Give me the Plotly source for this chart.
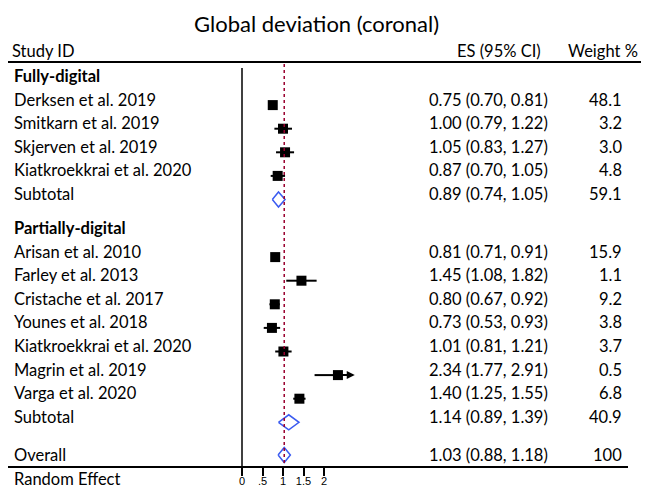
import plotly.graph_objects as go

# ---- data -------------------------------------------------------------
full_ids = ["Derksen et al. 2019", "Smitkarn et al. 2019", "Skjerven et al. 2019",
            "Kiatkroekkrai et al. 2020"]
full_es = [0.75, 1.00, 1.05, 0.87]
full_lo = [0.70, 0.79, 0.83, 0.70]
full_hi = [0.81, 1.22, 1.27, 1.05]
full_wt = ["48.1", "3.2", "3.0", "4.8"]

part_ids = ["Arisan et al. 2010", "Farley et al. 2013", "Cristache et al. 2017",
            "Younes et al. 2018", "Kiatkroekkrai et al. 2020", "Magrin et al. 2019",
            "Varga et al. 2020"]
part_es = [0.81, 1.45, 0.80, 0.73, 1.01, 2.34, 1.40]
part_lo = [0.71, 1.08, 0.67, 0.53, 0.81, 1.77, 1.25]
part_hi = [0.91, 1.82, 0.92, 0.93, 1.21, 2.91, 1.55]
part_wt = ["15.9", "1.1", "9.2", "3.8", "3.7", "0.5", "6.8"]

sub_es = [0.89, 1.14]
sub_lo = [0.74, 0.89]
sub_hi = [1.05, 1.39]
sub_wt = ["59.1", "40.9"]

overall_es, overall_lo, overall_hi, overall_wt = 1.03, 0.88, 1.18, "100"

tick_vals = [0, 0.5, 1, 1.5, 2]
tick_text = ["0", ".5", "1", "1.5", "2"]

# ---- layout constants (pixel geometry) --------------------------------
W, H = 650, 489
AX_Y = 466                 # pixel row of the x axis
PX0, PXU = 242, 41         # pixel of x=0 and pixels per unit
X_LEFT, X_RIGHT = 8, 628   # extent of the axis line
X_CLIP = 2.75              # CIs beyond this get an arrow
PITCH = 23.6
MARK_DY = 5.5
FONT = "Lato"
FS = 16.5
DIAMOND_COLOR = "#3b5bf0"


def fmt(es, lo, hi):
    return f"{es:.2f} ({lo:.2f}, {hi:.2f})"


def px(v):
    return v / W


def py(v):
    # pixel row -> paper fraction of the plot area
    return (AX_Y - v) / AX_Y


rows = []  # (kind, label, es, lo, hi, weight, text_y)
y = 76.0
rows.append(("head", "Fully-digital", None, None, None, None, y))
for i in range(len(full_ids)):
    y += PITCH
    rows.append(("study", full_ids[i], full_es[i], full_lo[i], full_hi[i], full_wt[i], y))
y += PITCH
rows.append(("sub", "Subtotal", sub_es[0], sub_lo[0], sub_hi[0], sub_wt[0], y))
y = 228.0
rows.append(("head", "Partially-digital", None, None, None, None, y))
for i in range(len(part_ids)):
    y += PITCH
    rows.append(("study", part_ids[i], part_es[i], part_lo[i], part_hi[i], part_wt[i], y))
y += PITCH
rows.append(("sub", "Subtotal", sub_es[1], sub_lo[1], sub_hi[1], sub_wt[1], y))
y = 455.0
rows.append(("overall", "Overall", overall_es, overall_lo, overall_hi, overall_wt, y))

fig = go.Figure()
annotations = []
shapes = []

# study squares with CI lines
sq_x, sq_y, ci_x, ci_y = [], [], [], []
for kind, label, es, lo, hi, wt, ty in rows:
    if kind != "study":
        continue
    my = ty + MARK_DY
    sq_x.append(es)
    sq_y.append(my)
    ci_x += [lo, hi if hi <= X_CLIP else es, None]
    ci_y += [my, my, None]
    if hi > X_CLIP:
        annotations.append(dict(x=X_CLIP, y=my, ax=es, ay=my, xref="x", yref="y",
                                axref="x", ayref="y", text="", showarrow=True,
                                arrowhead=2, arrowsize=0.8, arrowwidth=2,
                                arrowcolor="black"))

fig.add_trace(go.Scatter(x=ci_x, y=ci_y, mode="lines",
                         line=dict(color="black", width=2), hoverinfo="skip"))
fig.add_trace(go.Scatter(x=sq_x, y=sq_y, mode="markers",
                         marker=dict(symbol="square", size=10, color="black",
                                     line=dict(width=0)), hoverinfo="skip"))

# pooled diamonds
for kind, label, es, lo, hi, wt, ty in rows:
    if kind not in ("sub", "overall"):
        continue
    my = ty + (MARK_DY if kind == "sub" else 0)
    hh = 7.5
    fig.add_trace(go.Scatter(x=[lo, es, hi, es, lo], y=[my, my - hh, my, my + hh, my],
                             mode="lines", line=dict(color=DIAMOND_COLOR, width=1.5),
                             hoverinfo="skip"))

# text columns
for kind, label, es, lo, hi, wt, ty in rows:
    bold = kind == "head"
    annotations.append(dict(x=px(12), y=py(ty), xref="paper", yref="paper", xanchor="left",
                            yanchor="middle", showarrow=False,
                            text=f"<b>{label}</b>" if bold else label,
                            font=dict(family=FONT, size=FS, color="black")))
    if es is not None:
        annotations.append(dict(x=px(427), y=py(ty), xref="paper", yref="paper",
                                xanchor="left", yanchor="middle", showarrow=False,
                                text=fmt(es, lo, hi),
                                font=dict(family=FONT, size=FS, color="black")))
        annotations.append(dict(x=px(624), y=py(ty), xref="paper", yref="paper",
                                xanchor="right", yanchor="middle", showarrow=False,
                                text=wt, font=dict(family=FONT, size=FS, color="black")))

annotations.append(dict(x=px(12), y=py(479), xref="paper", yref="paper", xanchor="left",
                        yanchor="middle", showarrow=False, text="Random Effect",
                        font=dict(family=FONT, size=FS, color="black")))

# headers and title
annotations += [
    dict(x=px(316), y=py(23), xref="paper", yref="paper", xanchor="center",
         yanchor="middle", showarrow=False, text="Global deviation (coronal)",
         font=dict(family=FONT, size=22, color="black")),
    dict(x=px(10), y=py(51), xref="paper", yref="paper", xanchor="left", yanchor="middle",
         showarrow=False, text="Study ID", font=dict(family=FONT, size=FS, color="black")),
    dict(x=px(455), y=py(51), xref="paper", yref="paper", xanchor="left",
         yanchor="middle", showarrow=False, text="ES (95% CI)",
         font=dict(family=FONT, size=FS, color="black")),
    dict(x=px(640), y=py(51), xref="paper", yref="paper", xanchor="right",
         yanchor="middle", showarrow=False, text="Weight %",
         font=dict(family=FONT, size=FS, color="black")),
]

# header rule, null line and overall effect line
shapes += [
    dict(type="line", xref="paper", yref="y", x0=px(8), x1=px(641), y0=62, y1=62,
         line=dict(color="black", width=2)),
    dict(type="line", xref="x", yref="y", x0=0, x1=0, y0=68, y1=AX_Y,
         line=dict(color="black", width=1.5)),
    dict(type="line", xref="x", yref="y", x0=overall_es, x1=overall_es, y0=64, y1=AX_Y,
         line=dict(color="#99002e", width=1.5, dash="dot")),
]

fig.update_layout(
    width=W, height=H,
    margin=dict(l=0, r=0, t=0, b=H - AX_Y, autoexpand=False),
    paper_bgcolor="white", plot_bgcolor="white",
    showlegend=False,
    annotations=annotations, shapes=shapes,
    xaxis=dict(domain=[X_LEFT / W, X_RIGHT / W],
               range=[(X_LEFT - PX0) / PXU, (X_RIGHT - PX0) / PXU],
               tickmode="array", tickvals=tick_vals, ticktext=tick_text,
               ticks="outside", ticklen=8, tickwidth=1.5, tickcolor="black",
               ticklabelstandoff=-4, automargin=False,
               showline=True, linecolor="black", linewidth=1.5,
               showgrid=False, zeroline=False, fixedrange=True,
               tickfont=dict(family="Liberation Sans", size=11, color="black")),
    yaxis=dict(range=[AX_Y, 0], visible=False, showgrid=False, zeroline=False,
               fixedrange=True, automargin=False),
)

fig.write_html("out.html")
